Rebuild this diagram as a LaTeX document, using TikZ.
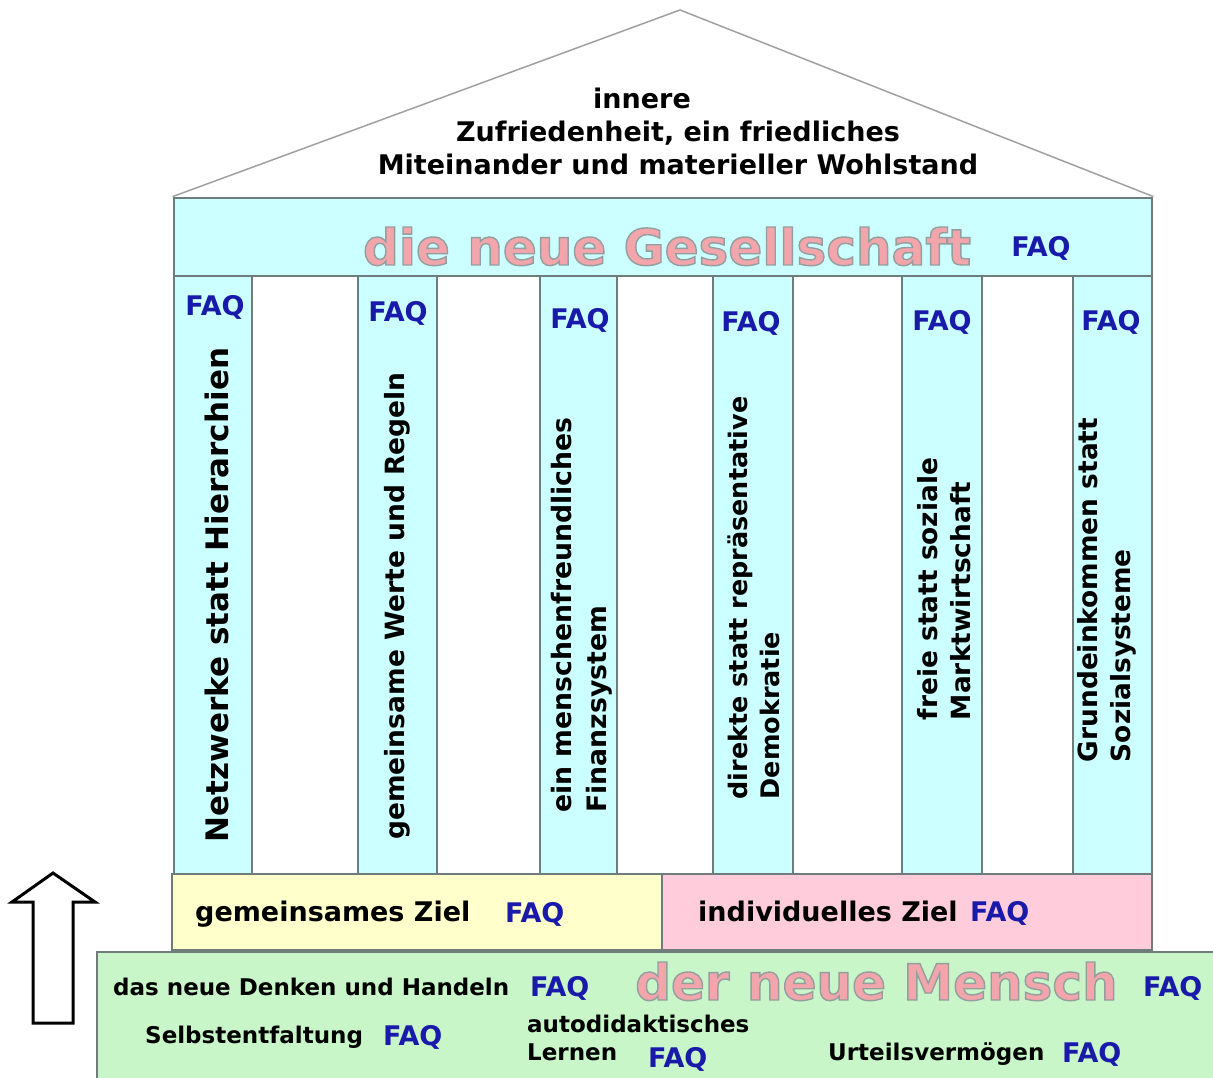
\documentclass[tikz,border=0pt]{standalone}
\usepackage{fontspec}
\setmainfont{DejaVu Sans}
\usetikzlibrary{positioning}

\definecolor{kante}{HTML}{6E7C7C}
\definecolor{dachgrau}{HTML}{A0A0A0}
\definecolor{tuerkis}{HTML}{CCFFFF}
\definecolor{gelb}{HTML}{FFFFCC}
\definecolor{rosa}{HTML}{FFCCDC}
\definecolor{gruen}{HTML}{C8F6C8}
\definecolor{faqblau}{HTML}{1A1AAA}
\definecolor{zierrot}{HTML}{F2A6AC}

% Umrisstext (Fuellen + Kontur)
\newcommand\umriss[1]{\special{pdf:literal direct q 2 Tr 1.4 w 0.58 0.62 0.62 RG}#1\special{pdf:literal direct Q}}
\newcommand\gr[2]{\fontsize{#1}{#2}\selectfont\bfseries}

\begin{document}
\begin{tikzpicture}[
    x=1pt, y=-1pt,
    kasten/.style={draw=kante, line width=2.8pt, inner sep=0pt},
    saeule/.style={kasten, fill=tuerkis, minimum height=598},
    faq/.style={text=faqblau, font=\gr{27}{32}, inner sep=0pt},
    text1/.style={font=\gr{27}{33}, inner sep=0pt},
    text2/.style={font=\gr{23}{28}, inner sep=0pt},
    stext/.style={rotate=90, align=left, inner sep=0pt},
    zier/.style={text=zierrot, font=\gr{50}{60}, inner sep=0pt}
]
\useasboundingbox (0,0) rectangle (1213,1078);

% Saeulen
\node[saeule, minimum width=78] (s1) at (213,575) {};
\node[saeule, minimum width=79] (s2) at (397.5,575) {};
\node[saeule, minimum width=77] (s3) at (578.5,575) {};
\node[saeule, minimum width=80] (s4) at (753,575) {};
\node[saeule, minimum width=80] (s5) at (942,575) {};
\node[saeule, minimum width=79] (s6) at (1112.5,575) {};

% Gebaelk und Dach
\node[kasten, fill=tuerkis, minimum width=978, minimum height=78] (gebaelk) at (663,237) {};
\coordinate (first) at (680,10);
\draw[dachgrau, line width=1.5pt] (gebaelk.north west) -- (first) -- (gebaelk.north east);
\node[text1, align=center, font=\gr{27}{33}] (dach) at (678,131)
  {innere\hspace*{72pt}\\Zufriedenheit, ein friedliches\\Miteinander und materieller Wohlstand};
\node[zier, anchor=base] (gesellschaft) at (667,265) {\umriss{die neue Gesellschaft}};
\node[faq, anchor=base] (faqg) at (1041,257) {FAQ};

% Saeulentexte
\node[faq, anchor=base] (faq1) at (215,315) {FAQ};
\node[faq, anchor=base] (faq2) at (398,321) {FAQ};
\node[faq, anchor=base] (faq3) at (580,328) {FAQ};
\node[faq, anchor=base] (faq4) at (751,331) {FAQ};
\node[faq, anchor=base] (faq5) at (942,330) {FAQ};
\node[faq, anchor=base] (faq6) at (1111,330) {FAQ};
\node[stext, font=\gr{31}{37}] (t1) at (217,595) {Netzwerke statt Hierarchien};
\node[stext, font=\gr{26.5}{33}] (t2) at (397,606) {gemeinsame Werte und Regeln};
\node[stext, font=\gr{26.7}{35}] (t3) at (582,615) {ein menschenfreundliches\\Finanzsystem};
\node[stext, font=\gr{25.5}{32}] (t4) at (754,598) {direkte statt repräsentative\\Demokratie};
\node[stext, font=\gr{26.4}{33}] (t5) at (944,589) {freie statt soziale\\Marktwirtschaft};
\node[stext, font=\gr{26.4}{33}] (t6) at (1107,590) {Grundeinkommen statt\\Sozialsysteme};

% Ziele
\node[kasten, fill=gelb, minimum width=490, minimum height=76] (gemeinsam) at (417,912) {};
\node[kasten, fill=rosa, minimum width=490, minimum height=76] (individuell) at (907,912) {};
\node[text1, anchor=base west] (zielg) at (195,921) {gemeinsames Ziel};
\node[faq, anchor=base west] (faqzg) at (505,922) {FAQ};
\node[text1, anchor=base west] (zieli) at (698,921) {individuelles Ziel};
\node[faq, anchor=base west] (faqzi) at (970,921) {FAQ};

% Fundament
\node[kasten, fill=gruen, minimum width=1150, minimum height=130] (mensch) at (672,1017) {};
\node[text2, anchor=base west] (denken) at (113,995) {das neue Denken und Handeln};
\node[faq, anchor=base west] (faqd) at (530,996) {FAQ};
\node[zier, anchor=base west] (neumensch) at (635,1000) {\umriss{der neue Mensch}};
\node[faq, anchor=base west] (faqm) at (1143,996) {FAQ};
\node[text2, anchor=base west] (selbst) at (145,1043) {Selbstentfaltung};
\node[faq, anchor=base west] (faqs) at (383,1045) {FAQ};
\node[text2, align=left, anchor=north west] (lernen) at (527,1015) {autodidaktisches\\Lernen};
\node[faq, anchor=base west] (faql) at (648,1067) {FAQ};
\node[text2, anchor=base west] (urteil) at (828,1060) {Urteilsvermögen};
\node[faq, anchor=base west] (faqu) at (1062,1062) {FAQ};

% Pfeil nach oben
\draw[line width=3pt, fill=white, line join=miter]
  (53,873) -- (95,902) -- (73,902) -- (73,1023) -- (33,1023) -- (33,902) -- (12,902) -- cycle;
\end{tikzpicture}
\end{document}
